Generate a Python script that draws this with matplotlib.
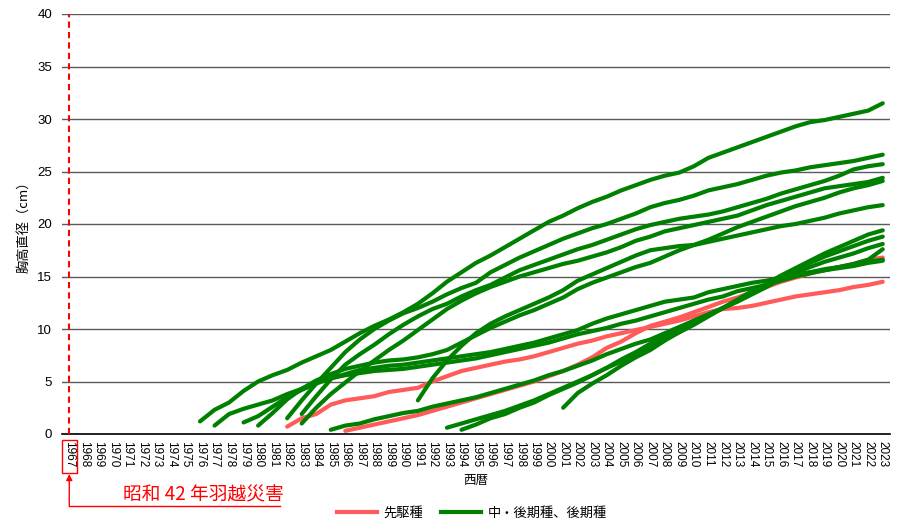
import matplotlib
matplotlib.use("Agg")
import matplotlib.pyplot as plt
from matplotlib.lines import Line2D
from matplotlib.patches import Rectangle
from matplotlib.transforms import blended_transform_factory

plt.rcParams['font.family'] = ['Liberation Sans', 'Noto Sans CJK JP', 'DejaVu Sans']

years = list(range(1967, 2024))
year_labels = [str(y) for y in years]
y_ticks = [0, 5, 10, 15, 20, 25, 30, 35, 40]

pioneer_label = "先駆種"
late_label = "中・後期種、後期種"
disaster_year = 1967
disaster_text = "昭和 42 年羽越災害"

# 先駆種 (pioneer species): first measured year + yearly diameters (cm)
pioneer_1_start = 1982
pioneer_1 = [0.7, 1.5, 1.9, 2.8, 3.2, 3.4, 3.6, 4.0, 4.2, 4.4,
             5.0, 5.5, 6.0, 6.3, 6.6, 6.9, 7.1, 7.4, 7.8, 8.2,
             8.6, 8.9, 9.3, 9.6, 9.9, 10.2, 10.5, 10.8, 11.2, 11.6,
             11.9, 12.0, 12.2, 12.5, 12.8, 13.1, 13.3, 13.5, 13.7, 14.0,
             14.2, 14.5]
pioneer_2_start = 1986
pioneer_2 = [0.3, 0.6, 0.9, 1.2, 1.5, 1.8, 2.2, 2.6, 3.0, 3.4,
             3.8, 4.2, 4.6, 5.0, 5.5, 6.0, 6.6, 7.3, 8.2, 8.8,
             9.6, 10.3, 10.7, 11.1, 11.6, 12.1, 12.6, 13.0, 13.5, 14.0,
             14.5, 14.9, 15.3, 15.6, 15.9, 16.2, 16.6, 16.8]

# 中・後期種、後期種 (mid/late successional species)
late_1_start = 1976
late_1 = [1.2, 2.3, 3.0, 4.1, 5.0, 5.6, 6.1, 6.8, 7.4, 8.0,
          8.8, 9.6, 10.3, 10.9, 11.6, 12.4, 13.4, 14.5, 15.4, 16.3,
          17.0, 17.8, 18.6, 19.4, 20.2, 20.8, 21.5, 22.1, 22.6, 23.2,
          23.7, 24.2, 24.6, 24.9, 25.5, 26.3, 26.8, 27.3, 27.8, 28.3,
          28.8, 29.3, 29.7, 29.9, 30.2, 30.5, 30.8, 31.5]
late_2_start = 1982
late_2 = [1.5, 3.2, 4.8, 6.3, 7.8, 9.0, 10.0, 10.8, 11.5, 12.0,
          12.6, 13.3, 13.9, 14.4, 15.4, 16.1, 16.8, 17.4, 18.0, 18.6,
          19.1, 19.6, 20.0, 20.5, 21.0, 21.6, 22.0, 22.3, 22.7, 23.2,
          23.5, 23.8, 24.2, 24.6, 24.9, 25.1, 25.4, 25.6, 25.8, 26.0,
          26.3, 26.6]
late_3_start = 1983
late_3 = [1.9, 3.6, 5.2, 6.6, 7.6, 8.5, 9.5, 10.4, 11.2, 11.9,
          12.4, 13.1, 13.7, 14.2, 14.9, 15.6, 16.1, 16.6, 17.1, 17.6,
          18.0, 18.5, 19.0, 19.5, 19.9, 20.2, 20.5, 20.7, 20.9, 21.2,
          21.6, 22.0, 22.4, 22.9, 23.3, 23.7, 24.1, 24.6, 25.2, 25.5,
          25.7]
late_4_start = 1983
late_4 = [1.0, 2.5, 3.8, 4.9, 6.0, 7.0, 8.0, 8.9, 9.9, 10.9,
          11.9, 12.7, 13.4, 14.0, 14.5, 15.0, 15.4, 15.8, 16.2, 16.5,
          16.9, 17.3, 17.8, 18.4, 18.8, 19.3, 19.6, 19.9, 20.2, 20.5,
          20.8, 21.3, 21.8, 22.2, 22.6, 23.0, 23.4, 23.6, 23.8, 24.0,
          24.4]
late_5_start = 1980
late_5 = [0.8, 2.0, 3.3, 4.3, 5.1, 5.7, 6.2, 6.5, 6.8, 7.0,
          7.1, 7.3, 7.6, 8.0, 8.7, 9.4, 10.1, 10.7, 11.3, 11.8,
          12.4, 13.0, 13.8, 14.4, 14.9, 15.4, 15.9, 16.3, 16.9, 17.5,
          18.0, 18.5, 19.1, 19.7, 20.2, 20.7, 21.2, 21.7, 22.1, 22.5,
          23.0, 23.4, 23.7, 24.1]
late_6_start = 1991
late_6 = [3.2, 5.3, 7.0, 8.4, 9.6, 10.5, 11.2, 11.8, 12.4, 13.0,
          13.7, 14.6, 15.2, 15.8, 16.4, 17.0, 17.5, 17.7, 17.9, 18.0,
          18.3, 18.6, 18.9, 19.2, 19.5, 19.8, 20.0, 20.3, 20.6, 21.0,
          21.3, 21.6, 21.8]
late_7_start = 1977
late_7 = [0.8, 1.9, 2.4, 2.8, 3.2, 3.8, 4.3, 4.9, 5.3, 5.7,
          6.1, 6.3, 6.5, 6.6, 6.8, 7.0, 7.2, 7.4, 7.6, 7.8,
          8.1, 8.4, 8.7, 9.1, 9.5, 9.9, 10.5, 11.0, 11.4, 11.8,
          12.2, 12.6, 12.8, 13.0, 13.5, 13.8, 14.1, 14.4, 14.6, 14.9,
          15.2, 15.4, 15.6, 15.8, 16.0, 16.3, 16.5]
late_8_start = 1979
late_8 = [1.1, 1.7, 2.6, 3.5, 4.2, 4.8, 5.3, 5.6, 5.8, 6.0,
          6.1, 6.2, 6.4, 6.6, 6.8, 7.0, 7.2, 7.5, 7.8, 8.1,
          8.4, 8.7, 9.1, 9.5, 9.8, 10.1, 10.5, 10.8, 11.2, 11.6,
          12.0, 12.4, 12.8, 13.1, 13.6, 13.9, 14.2, 14.6, 15.0, 15.3,
          15.6, 15.9, 16.2, 16.6, 17.6]
late_9_start = 1985
late_9 = [0.4, 0.8, 1.0, 1.4, 1.7, 2.0, 2.2, 2.6, 2.9, 3.2,
          3.5, 3.9, 4.3, 4.7, 5.1, 5.6, 6.0, 6.5, 7.0, 7.6,
          8.1, 8.6, 9.0, 9.6, 10.2, 10.8, 11.4, 12.0, 12.6, 13.3,
          14.0, 14.8, 15.4, 15.9, 16.4, 16.8, 17.2, 17.7, 18.1]
late_10_start = 1993
late_10 = [0.6, 1.0, 1.4, 1.8, 2.2, 2.7, 3.2, 3.8, 4.4, 5.0,
           5.6, 6.3, 6.9, 7.6, 8.3, 9.0, 9.7, 10.5, 11.3, 12.0,
           12.7, 13.5, 14.3, 15.1, 15.8, 16.5, 17.2, 17.8, 18.4, 19.0,
           19.4]
late_11_start = 1994
late_11 = [0.4, 0.9, 1.5, 1.9, 2.5, 3.0, 3.7, 4.3, 4.9, 5.6,
           6.3, 7.1, 7.8, 8.6, 9.4, 10.0, 10.6, 11.3, 12.0, 12.7,
           13.4, 14.1, 14.9, 15.6, 16.3, 16.9, 17.4, 17.9, 18.4, 18.8]
late_12_start = 2001
late_12 = [2.5, 3.9, 4.8, 5.6, 6.5, 7.3, 8.0, 8.9, 9.7, 10.4,
           11.2, 12.0, 12.8, 13.6, 14.2, 14.7, 15.1, 15.4, 15.7, 15.9,
           16.1, 16.4, 16.6]

pioneer_series = [(pioneer_1_start, pioneer_1), (pioneer_2_start, pioneer_2)]
late_series = [(late_1_start, late_1), (late_2_start, late_2), (late_3_start, late_3),
               (late_4_start, late_4), (late_5_start, late_5), (late_6_start, late_6),
               (late_7_start, late_7), (late_8_start, late_8), (late_9_start, late_9),
               (late_10_start, late_10), (late_11_start, late_11), (late_12_start, late_12)]

RED = '#FF5B5B'
GREEN = '#008000'
LW = 3.0
CJK = ['Noto Sans CJK JP', 'DejaVu Sans']

fig = plt.figure(figsize=(8.97, 5.24), dpi=100)
ax = fig.add_axes([62 / 897, 1 - 434 / 524, (890 - 62) / 897, (434 - 14) / 524])

for start, vals in pioneer_series:
    xs = list(range(start, start + len(vals)))
    ax.plot(xs, vals, color=RED, lw=LW, solid_capstyle='round',
            solid_joinstyle='round', zorder=3)
for start, vals in late_series:
    xs = list(range(start, start + len(vals)))
    ax.plot(xs, vals, color=GREEN, lw=LW, solid_capstyle='round',
            solid_joinstyle='round', zorder=4)

ax.set_xlim(years[0] - 0.5, years[-1] + 0.5)
ax.set_ylim(0, 40)
ax.set_xticks(years)
ax.set_xticklabels(year_labels, rotation=-90, fontsize=8.5)
ax.set_yticks(y_ticks)
ax.set_yticklabels([str(t) for t in y_ticks], fontsize=9.5)
ax.tick_params(axis='x', length=0, pad=5)
ax.tick_params(axis='y', length=0, pad=7)
ax.grid(axis='y', color='#5a5a5a', lw=1.0)
ax.set_axisbelow(True)
for side in ('left', 'top', 'right'):
    ax.spines[side].set_visible(False)
ax.spines['bottom'].set_color('black')
ax.spines['bottom'].set_linewidth(1.2)
ax.spines['bottom'].set_zorder(5)

ax.set_ylabel("胸高直径（cm）", fontsize=9.5, labelpad=5, family=CJK)
ax.set_xlabel("西暦", fontsize=9, labelpad=5, family=CJK)

# Disaster marker: dashed line, boxed tick label, arrow and caption
ax.axvline(disaster_year, color='#FF0000', lw=1.5, ls=(0, (3, 2)), zorder=6)
tr = blended_transform_factory(ax.transData, fig.transFigure)
ax.add_patch(Rectangle((disaster_year - 0.48, 1 - 473 / 524), 1.03, 33 / 524,
                       transform=tr, fill=False, edgecolor='#FF0000', lw=1.0,
                       clip_on=False))
line_y = 1 - 506 / 524
ax.annotate("", xy=(disaster_year, 1 - 474 / 524), xytext=(disaster_year, line_y),
            xycoords=tr, textcoords=tr,
            arrowprops=dict(arrowstyle='-|>', color='#FF0000', lw=1.0,
                            mutation_scale=9, shrinkA=0, shrinkB=0),
            annotation_clip=False)
ax.plot([disaster_year, disaster_year + 14.5], [line_y, line_y], transform=tr,
        color='#FF0000', lw=1.0, clip_on=False)
ax.text(disaster_year + 9.2, 1 - 495 / 524, disaster_text, transform=tr,
        color='#FF0000', fontsize=13.5, ha='center', va='center', family=CJK)

handles = [Line2D([0], [0], color=RED, lw=LW),
           Line2D([0], [0], color=GREEN, lw=LW)]
fig.legend(handles, [pioneer_label, late_label], loc='center',
           bbox_to_anchor=(472 / 897, 1 - 513 / 524), ncol=2, frameon=False,
           handlelength=3.0, columnspacing=1.4, handletextpad=0.5,
           prop={'family': CJK, 'size': 9.5})

fig.savefig("out.png", dpi=100)
